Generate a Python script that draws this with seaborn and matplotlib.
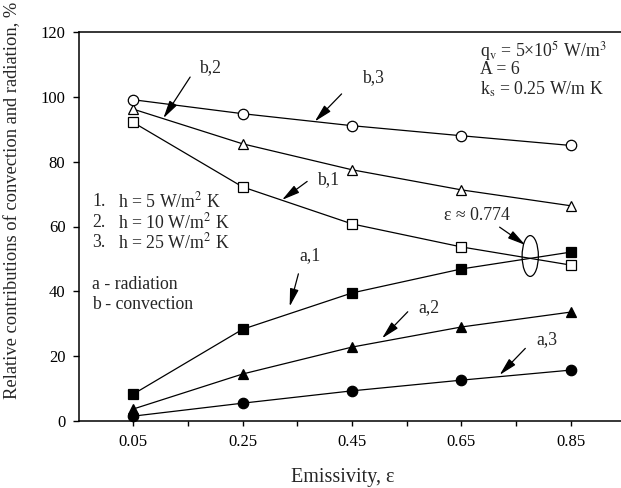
import matplotlib
matplotlib.use("Agg")
import matplotlib.pyplot as plt
from matplotlib.patches import Ellipse
import seaborn as sns
import pandas as pd

# ---- data ----
emissivity = [0.05, 0.25, 0.45, 0.65, 0.85]
a1_radiation_h5 = [8.3, 28.3, 39.5, 46.9, 52.1]
a2_radiation_h10 = [3.7, 14.5, 22.8, 29.0, 33.6]
a3_radiation_h25 = [1.5, 5.5, 9.3, 12.6, 15.7]
b1_convection_h5 = [92.1, 72.2, 60.8, 53.7, 48.1]
b2_convection_h10 = [96.2, 85.5, 77.5, 71.3, 66.4]
b3_convection_h25 = [99.1, 94.8, 91.1, 88.0, 85.0]
x_ticklabels = ["0.05", "0.25", "0.45", "0.65", "0.85"]
y_ticks = [0, 20, 40, 60, 80, 100, 120]

sns.set_theme(style="ticks")
plt.rcParams["font.family"] = ["Liberation Serif", "DejaVu Serif"]
plt.rcParams["mathtext.fontset"] = "stix"

fig = plt.figure(figsize=(6.21, 4.88), dpi=100)
ax = fig.add_axes([78.6 / 621, 67 / 488, (621 - 78.6) / 621, 389 / 488])

series = [
    (a1_radiation_h5, "s", "black"),
    (a2_radiation_h10, "^", "black"),
    (a3_radiation_h25, "o", "black"),
    (b1_convection_h5, "s", "white"),
    (b2_convection_h10, "^", "white"),
    (b3_convection_h25, "o", "white"),
]
msize = {"s": 7.0, "^": 7.0, "o": 7.5}
for vals, mk, fc in series:
    df = pd.DataFrame({"eps": emissivity, "val": vals})
    sns.lineplot(data=df, x="eps", y="val", ax=ax, color="black", lw=0.9,
                 marker=mk, markersize=msize[mk], markerfacecolor=fc,
                 markeredgecolor="black", markeredgewidth=0.9, clip_on=False,
                 zorder=3)

ax.set_xlim(-0.05, 0.942)
ax.set_ylim(0, 120)
ax.set_xticks([0.05, 0.15, 0.25, 0.35, 0.45, 0.55, 0.65, 0.75, 0.85])
ax.set_xticklabels([x_ticklabels[0], "", x_ticklabels[1], "", x_ticklabels[2], "",
                    x_ticklabels[3], "", x_ticklabels[4]])
ax.set_yticks(y_ticks)
ax.set_yticklabels([str(v) for v in y_ticks])
ax.tick_params(axis="x", direction="out", length=3.5, width=1.0, labelsize=12, pad=6, colors="black")
ax.tick_params(axis="y", direction="out", length=4.5, width=1.0, labelsize=12, pad=5, colors="black")
for s in ["left", "bottom", "top"]:
    ax.spines[s].set_linewidth(1.1)
    ax.spines[s].set_color("black")
ax.spines["right"].set_visible(False)

ax.set_xlabel("Emissivity, ε", fontsize=14.5, va="center")
ax.xaxis.set_label_coords(0.4875, -0.1465)
ax.set_ylabel("Relative contributions of convection and radiation, %", fontsize=13.3, va="center")
ax.yaxis.set_label_coords(-0.121, 0.566)

ap = dict(arrowstyle="-|>,head_length=0.9,head_width=0.22", color="black", lw=0.9,
          shrinkA=0, shrinkB=0, mutation_scale=12)
fs = 12.8
annots = [
    ("b,2", (0.190, 108.9), (0.154, 106.1), (0.105, 93.4)),
    ("b,3", (0.488, 105.8), (0.431, 100.9), (0.382, 92.4)),
    ("b,1", (0.407, 74.4), (0.368, 73.9), (0.322, 68.2)),
    ("a,1", (0.374, 51.0), (0.352, 45.4), (0.336, 35.3)),
    ("a,2", (0.590, 35.1), (0.552, 33.7), (0.505, 25.5)),
    ("a,3", (0.806, 25.0), (0.767, 22.4), (0.720, 14.2)),
]
for txt, tpos, tail, head in annots:
    ax.text(tpos[0], tpos[1], txt, fontsize=fs, ha="center", va="center")
    ax.annotate("", xy=head, xytext=tail, arrowprops=ap)

ax.text(0.679, 63.3, "ε ≈ 0.774", fontsize=fs, ha="center", va="center")
ax.annotate("", xy=(0.767, 54.3), xytext=(0.72, 59.8), arrowprops=ap)
ax.add_patch(Ellipse((0.776, 50.9), 0.0297, 12.6, fill=False, ec="black", lw=0.9))

lx1 = 0.05 + (92 - 133.3) / 546.8
lx2 = 0.05 + (118 - 133.3) / 546.8
rows = [("1.", "h = 5 W/m$^2$ K", 67.7), ("2.", "h = 10 W/m$^2$ K", 61.2),
        ("3.", "h = 25 W/m$^2$ K", 55.0)]
for num, t, yv in rows:
    ax.text(lx1, yv, num, fontsize=fs, ha="left", va="center")
    ax.text(lx2, yv, t, fontsize=fs, ha="left", va="center")
ax.text(lx1, 42.2, "a - radiation", fontsize=fs, ha="left", va="center")
ax.text(lx1, 35.8, "b - convection", fontsize=fs, ha="left", va="center")

tx = 0.684
ax.text(tx, 114.2, "q$_\\mathrm{v}$ = 5×10$^5$ W/m$^3$", fontsize=fs, ha="left", va="center")
ax.text(tx, 108.3, "A = 6", fontsize=fs, ha="left", va="center")
ax.text(tx, 102.2, "k$_\\mathrm{s}$ = 0.25 W/m K", fontsize=fs, ha="left", va="center")

fig.savefig("out.png", dpi=100)
